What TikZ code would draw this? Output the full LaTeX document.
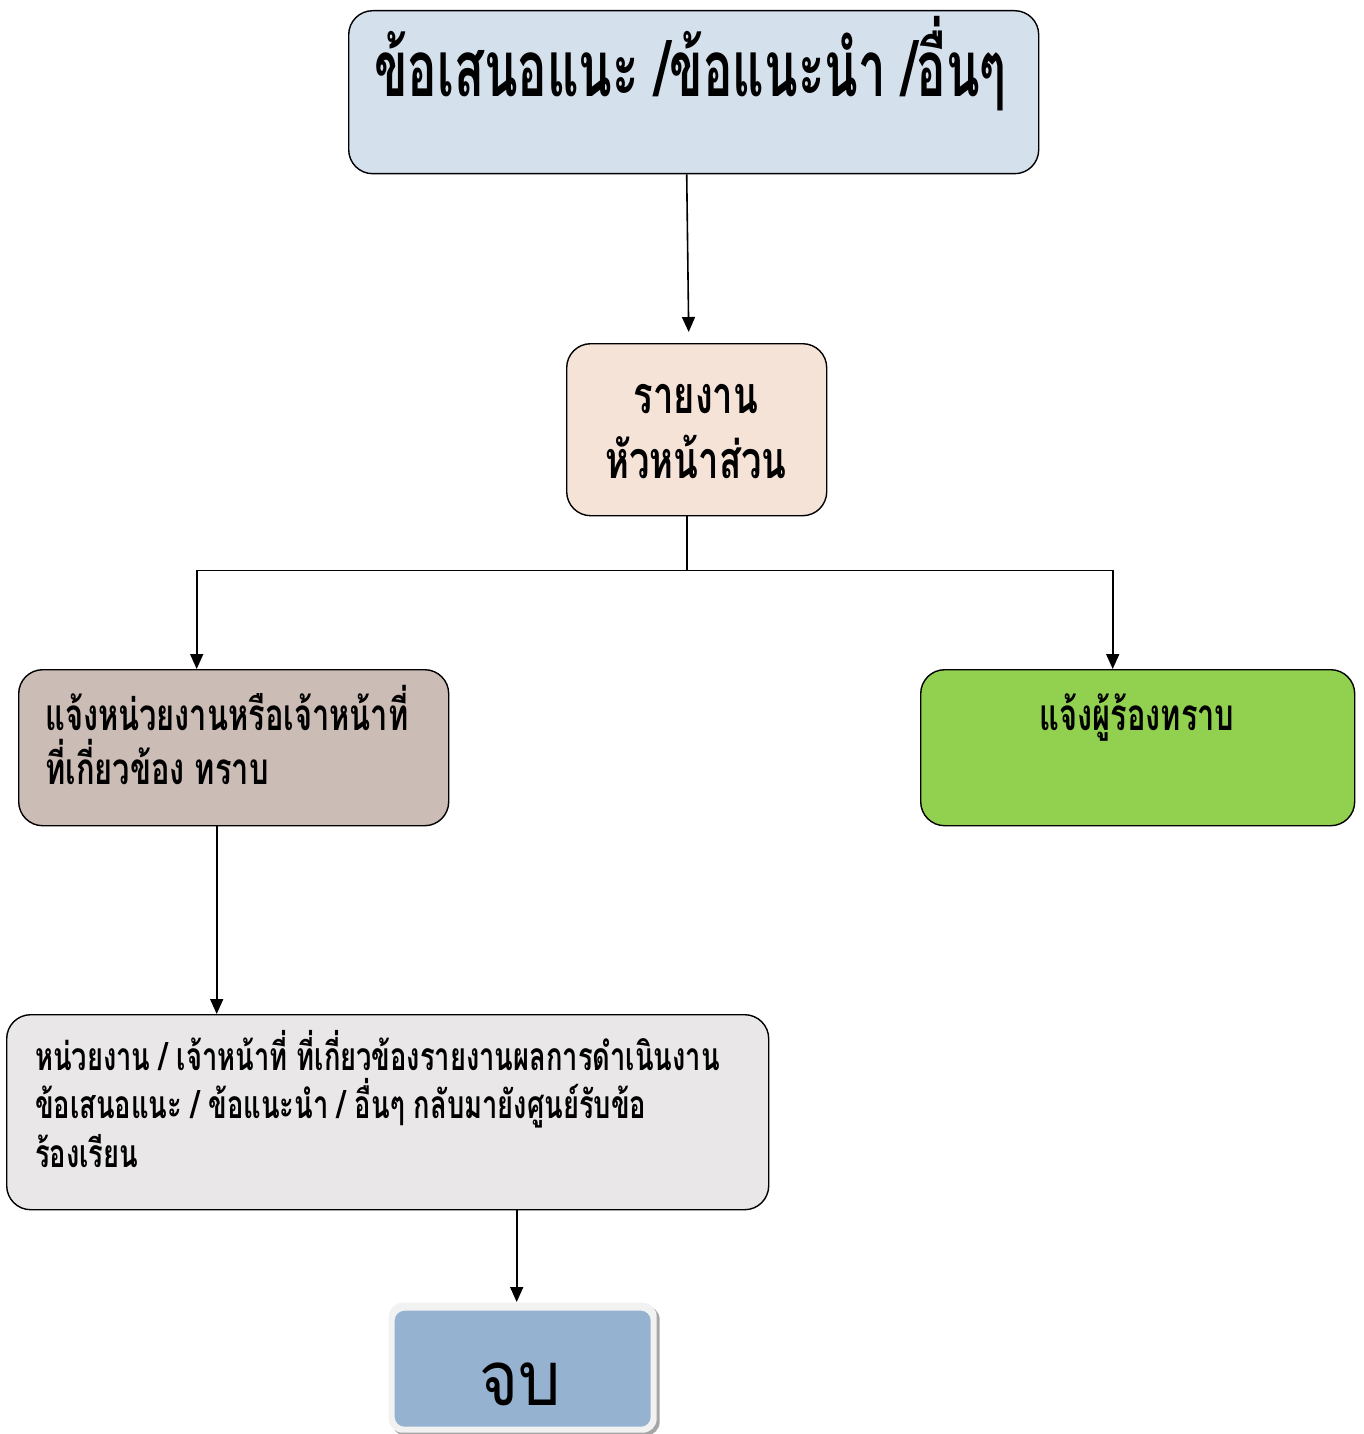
\documentclass[tikz,border=0pt]{standalone}
\usepackage{fontspec}
\newfontfamily\titlefont[Script=Thai,FakeStretch=0.63]{Loma}
\newfontfamily\thaifont[Script=Thai,FakeStretch=0.7]{Loma}
\newfontfamily\thaiwide[Script=Thai,FakeStretch=0.88]{Loma}
\usetikzlibrary{arrows.meta}

\definecolor{topblue}{HTML}{D4E0EB}
\definecolor{headpeach}{HTML}{F5E3D7}
\definecolor{leftbrown}{HTML}{CBBCB5}
\definecolor{rightgreen}{HTML}{92D050}
\definecolor{ansgrey}{HTML}{E9E7E8}
\definecolor{stopblue}{HTML}{95B3D1}
\definecolor{stoprim}{HTML}{F2F2F2}

\tikzstyle{box} = [draw, line width=1.4pt, rounded corners=24pt, inner sep=0pt, anchor=north west]
\tikzstyle{label} = [inner sep=0pt, text depth=0pt]
\tikzstyle{arrowdecorate} = [-{Triangle[length=15pt,width=13pt]}, line width=1.6pt]
\tikzstyle{plainline} = [line width=1.6pt]

\begin{document}
\begin{tikzpicture}[x=1pt,y=-1pt]
      \useasboundingbox (0,0) rectangle (1363,1434);
      %boxes
      \foreach \nodename/\x/\y/\w/\h/\color in {
        top/348/10/690/163/topblue,
        head/566/343/260/172/headpeach,
        left/18/669/430/156/leftbrown,
        right/920/669/434/156/rightgreen,
        ans/6/1014/762/195/ansgrey}
      {
        \node[box, fill=\color, minimum width=\w pt, minimum height=\h pt] (\nodename) at (\x,\y) {};
      };
      % end box with rim and shadow
      \node[box, draw=none, fill=black!35, rounded corners=14pt, minimum width=268pt, minimum height=130pt] (stopshadow) at (391,1305) {};
      \node[box, draw=none, fill=stoprim, rounded corners=14pt, minimum width=268pt, minimum height=130pt] (stop) at (388,1302) {};
      \node[box, draw=none, fill=stopblue, rounded corners=10pt, minimum width=256pt, minimum height=116pt] (stopin) at (394,1310) {};

      %texts
      \node[label, font=\titlefont\bfseries\fontsize{78}{80}\selectfont, anchor=base] (toptext) at (690,97) {ข้อเสนอแนะ /ข้อแนะนำ /อื่นๆ};
      \node[label, font=\thaifont\bfseries\fontsize{52}{54}\selectfont, anchor=base] (headtext1) at (696,413) {รายงาน};
      \node[label, font=\thaifont\bfseries\fontsize{52}{54}\selectfont, anchor=base] (headtext2) at (696,478) {หัวหน้าส่วน};
      \node[label, font=\thaifont\bfseries\fontsize{44}{46}\selectfont, anchor=base west] (lefttext1) at (45,730) {แจ้งหน่วยงานหรือเจ้าหน้าที่};
      \node[label, font=\thaifont\bfseries\fontsize{44}{46}\selectfont, anchor=base west] (lefttext2) at (45,784) {ที่เกี่ยวข้อง ทราบ};
      \node[label, font=\thaifont\bfseries\fontsize{44}{46}\selectfont, anchor=base] (righttext) at (1137,730) {แจ้งผู้ร้องทราบ};
      \foreach \nodename/\y/\text in {
        anstext1/1070/{หน่วยงาน / เจ้าหน้าที่ ที่เกี่ยวข้องรายงานผลการดำเนินงาน},
        anstext2/1118/{ข้อเสนอแนะ / ข้อแนะนำ / อื่นๆ กลับมายังศูนย์รับข้อ},
        anstext3/1167/{ร้องเรียน}}
      {
        \node[label, font=\thaifont\bfseries\fontsize{39}{41}\selectfont, anchor=base west] (\nodename) at (35,\y) {\text};
      };
      \node[label, font=\thaiwide\fontsize{76}{78}\selectfont, anchor=base] (stoptext) at (520,1405) {จบ};

      %edges
      \coordinate (split) at ([xshift=-10pt,yshift=-54pt]head.south);
      \draw[arrowdecorate] ([xshift=-7pt]top.south) -- ([xshift=-8pt,yshift=11pt]head.north);
      \draw[plainline] ([xshift=-10pt]head.south) -- (split);
      \draw[arrowdecorate] (split) -| ([xshift=-37pt]left.north);
      \draw[arrowdecorate] (split) -| ([xshift=-25pt]right.north);
      \draw[arrowdecorate] ([xshift=-17pt]left.south) -- ([xshift=-17pt]left.south |- ans.north);
      \draw[arrowdecorate] ([xshift=129pt]ans.south) -- ([xshift=-6pt]stop.north);
\end{tikzpicture}
\end{document}
